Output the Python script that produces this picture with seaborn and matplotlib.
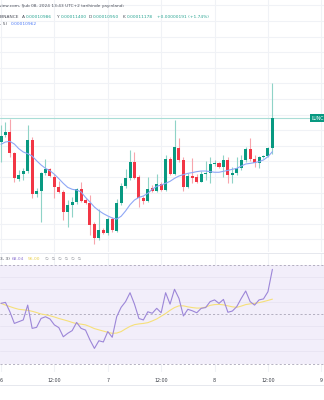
import numpy as np
import pandas as pd
import matplotlib
matplotlib.use("Agg")
import matplotlib.pyplot as plt
from matplotlib.lines import Line2D
import seaborn as sns

# Hourly LUNC/USDT candles starting 6 Feb 00:00; prices in units of 1e-8 USDT
hours = list(range(62))
opens = [11026, 11069, 11090, 10951, 10787, 10819, 10838, 11037, 10691, 10710,
         10825, 10849, 10802, 10738, 10701, 10577, 10620, 10642, 10721, 10652,
         10635, 10498, 10407, 10460, 10443, 10528, 10456, 10635, 10742, 10791,
         10894, 10798, 10663, 10648, 10727, 10710, 10753, 10716, 10913, 10817,
         10983, 10909, 10733, 10806, 10798, 10770, 10817, 10823, 10881, 10887,
         10866, 10909, 10813, 10828, 10855, 10909, 10977, 10913, 10887, 10926,
         10934, 10986]
highs = [11133, 11154, 11169, 10962, 10845, 10855, 11133, 11054, 10727, 10834,
         10913, 10860, 10819, 10776, 10716, 10652, 10674, 10731, 10770, 10663,
         10684, 10509, 10592, 10471, 10545, 10545, 10657, 10759, 10849, 10973,
         10962, 10813, 10678, 10802, 10748, 10819, 10770, 10941, 10930, 11165,
         11048, 10926, 10823, 10919, 10817, 10838, 10904, 10930, 10909, 10898,
         10941, 10926, 10866, 10926, 10941, 10990, 11048, 10941, 10934, 10941,
         10990, 11400]
lows = [10898, 11054, 10930, 10770, 10776, 10780, 10823, 10663, 10674, 10513,
        10813, 10798, 10663, 10699, 10524, 10481, 10545, 10627, 10642, 10627,
        10428, 10368, 10396, 10434, 10428, 10449, 10449, 10620, 10731, 10780,
        10785, 10610, 10625, 10637, 10701, 10701, 10710, 10710, 10813, 10810,
        10898, 10710, 10727, 10759, 10759, 10766, 10780, 10763, 10870, 10855,
        10802, 10759, 10759, 10813, 10845, 10898, 10904, 10866, 10860, 10919,
        10926, 10950]
closes = [11065, 11090, 10956, 10791, 10813, 10838, 11037, 10691, 10710, 10823,
          10851, 10806, 10738, 10706, 10577, 10620, 10637, 10721, 10648, 10635,
          10492, 10407, 10460, 10443, 10528, 10460, 10635, 10742, 10791, 10894,
          10795, 10663, 10648, 10723, 10712, 10753, 10716, 10913, 10817, 10990,
          10909, 10733, 10806, 10791, 10770, 10817, 10823, 10881, 10887, 10866,
          10909, 10813, 10828, 10855, 10909, 10977, 10913, 10887, 10926, 10934,
          10986, 11178]
ma_close = [11009, 11024, 11028, 11011, 10981, 10960, 10949, 10934, 10904, 10877,
            10855, 10840, 10817, 10789, 10759, 10733, 10721, 10716, 10704, 10669,
            10639, 10607, 10584, 10565, 10550, 10537, 10530, 10548, 10582, 10622,
            10652, 10669, 10678, 10695, 10721, 10740, 10748, 10759, 10772, 10791,
            10806, 10815, 10823, 10828, 10834, 10838, 10838, 10834, 10830, 10830,
            10836, 10842, 10849, 10855, 10870, 10883, 10887, 10892, 10898, 10909,
            10930, 10962]
rsi = [54.3, 54.7, 50.9, 46.2, 46.9, 47.6, 53.6, 44.2, 44.6, 48.2,
       48.9, 48.0, 45.6, 44.5, 40.8, 42.2, 43.3, 46.6, 44.2, 43.5,
       39.5, 36.1, 39.2, 38.7, 42.9, 40.6, 48.9, 52.7, 55.0, 58.6,
       54.0, 48.2, 47.6, 50.9, 50.3, 52.3, 50.5, 58.6, 54.0, 60.0,
       56.3, 49.2, 51.9, 51.3, 50.5, 52.3, 52.6, 55.0, 55.7, 54.3,
       55.9, 50.7, 51.2, 53.0, 56.3, 59.3, 55.0, 53.6, 55.7, 56.1,
       59.0, 68.04]
rsi_ma = [54.3, 53.6, 53.0, 52.4, 51.9, 51.7, 51.5, 51.1, 50.6, 50.0,
          49.7, 49.3, 48.8, 48.2, 47.7, 47.2, 46.6, 46.1, 45.9, 45.6,
          44.9, 44.1, 43.6, 43.1, 42.6, 42.2, 42.3, 42.9, 44.0, 45.0,
          45.7, 46.0, 46.2, 46.5, 47.2, 48.0, 49.1, 50.2, 51.5, 52.6,
          53.3, 53.3, 52.9, 52.6, 52.4, 52.4, 52.8, 53.5, 53.8, 53.9,
          53.7, 53.3, 52.9, 52.7, 53.2, 53.8, 54.1, 54.3, 54.6, 55.0,
          55.5, 56.00]

time_ticks = [0, 12, 24, 36, 48, 60, 72]
time_labels = ["6", "12:00", "7", "12:00", "8", "12:00", "9"]

GREEN = "#089981"
RED = "#f23645"
GREEN_WICK = "#8fd3c7"
RED_WICK = "#f7a5ad"
MA_BLUE = "#8ea7f6"
RSI_PURPLE = "#9c86d8"
RSI_YELLOW = "#f6e07a"
GRID = "#f0f2f6"
TEXT = "#4a4e59"
VAL_GREEN = "#2aa593"

sns.set_theme(style="white")
plt.rcParams["font.family"] = ["DejaVu Sans"]

df = pd.DataFrame({"hour": hours, "open": opens, "high": highs, "low": lows,
                   "close": closes, "ma": ma_close, "rsi": rsi, "rsi_ma": rsi_ma})

W, H = 324, 400
fig = plt.figure(figsize=(W / 100, H / 100), dpi=100)
fig.patch.set_facecolor("white")


def pane(top, bottom):
    return [0, 1 - bottom / H, 1, (bottom - top) / H]


ax = fig.add_axes(pane(0, 252))
ax_rsi = fig.add_axes(pane(253, 372))
xlim = (-0.225, 72.6)

for a in (ax, ax_rsi):
    a.set_xlim(*xlim)
    a.set_facecolor("white")
    for s in a.spines.values():
        s.set_visible(False)
    a.set_xticks([])
    a.set_yticks([])
    for t in time_ticks:
        a.axvline(t, color=GRID, lw=0.8, zorder=0)

# price pane
ax.set_ylim(10319, 11934)
for lvl in range(10400, 11934, 100):
    ax.axhline(lvl, color=GRID, lw=0.8, zorder=0)

up = df["close"] >= df["open"]
body_col = np.where(up, GREEN, RED)
wick_col = np.where(up, GREEN_WICK, RED_WICK)
ax.vlines(df["hour"], df["low"], df["high"], colors=wick_col, lw=0.8, zorder=2)
body_lo = np.minimum(df["open"], df["close"])
body_h = np.maximum((df["close"] - df["open"]).abs(), 5)
ax.bar(df["hour"], body_h, bottom=body_lo, width=0.68, color=body_col,
       linewidth=0, zorder=3)
sns.lineplot(data=df, x="hour", y="ma", ax=ax, color=MA_BLUE, lw=0.8, zorder=4)
ax.axhline(closes[-1], color="#a9ddd6", lw=0.8, zorder=1)
ax.set_xlabel("")
ax.set_ylabel("")

# RSI pane
ax_rsi.set_ylim(26.57, 74.65)
for lvl in (35, 40, 45, 55, 60, 65):
    ax_rsi.axhline(lvl, color="#e8e4f2", lw=0.6, zorder=1)
ax_rsi.axhspan(30, 70, color="#f2eefa", lw=0, zorder=0.5)
for lvl in (70, 50, 30):
    ax_rsi.axhline(lvl, color="#aaa6b8", lw=0.6, ls=(0, (2.5, 2.5)), zorder=2)
sns.lineplot(data=df, x="hour", y="rsi_ma", ax=ax_rsi, color=RSI_YELLOW, lw=0.8, zorder=3)
sns.lineplot(data=df, x="hour", y="rsi", ax=ax_rsi, color=RSI_PURPLE, lw=0.8, zorder=4)
ax_rsi.set_xlabel("")
ax_rsi.set_ylabel("")

# pane separators
for yy, c in ((252.6, "#e6e8ee"), (385, "#e6e8ee")):
    fig.add_artist(Line2D([0, 1], [1 - yy / H] * 2, transform=fig.transFigure,
                          color=c, lw=0.7))


def put(x, y, s, color=TEXT, size=3.2, **kw):
    fig.text(x / W, 1 - y / H, s, color=color, fontsize=size, va="center",
             ha=kw.pop("ha", "left"), **kw)


# time axis
for t, lab in zip(time_ticks, time_labels):
    xpix = (t - xlim[0]) / (xlim[1] - xlim[0]) * W
    put(xpix, 380, lab, color="#3b3f48", size=3.4, ha="center")

# legend lines
put(-1, 6, "view.com, Şub 08, 2024 13:43 UTC+2 tarihinde yayınlandı", size=3.1)
put(0, 16.7, "BINANCE")
put(22, 16.7, "A")
put(26, 16.7, "0.00010986", color=VAL_GREEN)
put(57, 16.7, "Y")
put(61, 16.7, "0.00011400", color=VAL_GREEN)
put(89, 16.7, "D")
put(93, 16.7, "0.00010950", color=VAL_GREEN)
put(123, 16.7, "K")
put(127, 16.7, "0.00011178", color=VAL_GREEN)
put(157, 16.7, "+0.00000191 (+1.74%)", color=VAL_GREEN)
put(0, 24.3, ", 5)")
put(11, 24.3, "0.00010962", color="#4f7cf7")

put(0, 259, "3, 3)")
put(12, 259, "68.04", color="#8f77d2")
put(28, 259, "56.00", color="#e9cf4a")
put(45, 259, "∅  ∅  ∅  ∅  ∅  ∅", color="#8a8d96")

# symbol label on the last-price line
fig.text(311.5 / W, 1 - 118 / H, "LUNC", color="white", fontsize=3.3,
         va="center", ha="left",
         bbox=dict(boxstyle="square,pad=0.35", fc=GREEN, ec="none"))

fig.savefig("out.png", dpi=100, facecolor="white")
